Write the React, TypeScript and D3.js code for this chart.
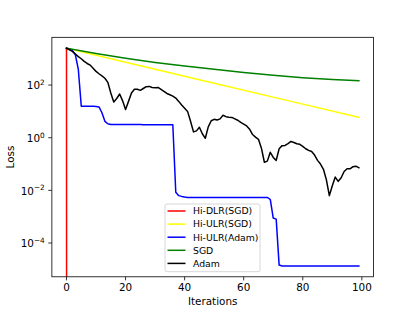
import React from "react";
import * as d3 from "d3";

const W = 415;
const H = 311;

const seriesNames = ["Hi-DLR(SGD)", "Hi-ULR(SGD)", "Hi-ULR(Adam)", "SGD", "Adam"];
const seriesColors = ["#ff0000", "#ffff00", "#0000ff", "#008000", "#000000"];

const xTicks = [0, 20, 40, 60, 80, 100];
const yTickExps = [2, 0, -2, -4];

const hiDlrSgdIters = [0, 1, 99];
const hiDlrSgdLoss = [2512, 0, 0];

const hiUlrSgdIters = [0, 25, 50, 75, 99];
const hiUlrSgdLoss = [2512, 545, 118, 25.6, 5.9];

const sgdIters = [0, 10, 20, 30, 40, 50, 60, 70, 80, 90, 99];
const sgdLoss = [2512, 1585, 1047, 724, 525, 398, 302, 234, 191, 162, 145];

const hiUlrAdamLoss = [
  2512, 2340, 2040, 1413, 398, 15.8, 15.8, 15.8, 15.8, 15.6,
  15.4, 14.8, 8.9, 4.2, 3.4, 3.2, 3.16, 3.16, 3.16, 3.16,
  3.16, 3.16, 3.16, 3.16, 3.16, 3.16, 3.1, 3.1, 3.1, 3.1,
  3.1, 3.1, 3.1, 3.1, 3.1, 3.1, 3.1, 0.0085, 0.0063, 0.0059,
  0.0056, 0.0054, 0.0054, 0.0054, 0.0054, 0.0054, 0.0054, 0.0054, 0.0054, 0.0054,
  0.0054, 0.0054, 0.0054, 0.0054, 0.0054, 0.0054, 0.0054, 0.0054, 0.0054, 0.0054,
  0.0054, 0.0054, 0.0054, 0.0054, 0.0054, 0.0054, 0.0054, 0.0054, 0.0054, 0.0045,
  0.00089, 0.00081, 1.45e-5, 1.35e-5, 1.35e-5, 1.35e-5, 1.35e-5, 1.35e-5, 1.35e-5, 1.35e-5,
  1.35e-5, 1.35e-5, 1.35e-5, 1.35e-5, 1.35e-5, 1.35e-5, 1.35e-5, 1.35e-5, 1.35e-5, 1.35e-5,
  1.35e-5, 1.35e-5, 1.35e-5, 1.35e-5, 1.35e-5, 1.35e-5, 1.35e-5, 1.35e-5, 1.35e-5, 1.35e-5,
];

const adamLoss = [
  2512, 2190, 1905, 1514, 1202, 1000, 794, 661, 575, 437,
  331, 269, 224, 182, 126, 50, 22.9, 30.9, 45.7, 25.1,
  11.7, 24, 50, 69, 69, 63, 74, 87, 89, 81,
  79, 81, 69, 58, 48, 43, 38, 32, 24, 17.4,
  13.2, 10, 4.2, 1.66, 1.82, 2.5, 1.41, 0.95, 2.57, 4.4,
  5.0, 4.7, 5.2, 7.1, 6.3, 6.0, 5.9, 5.2, 4.6, 3.8,
  3.3, 2.8, 2.1, 1.32, 1.05, 0.87, 0.4, 0.117, 0.129, 0.28,
  0.178, 0.138, 0.38, 0.5, 0.51, 0.6, 0.72, 0.66, 0.59, 0.56,
  0.47, 0.38, 0.33, 0.3, 0.22, 0.138, 0.1, 0.063, 0.025, 0.0063,
  0.015, 0.032, 0.022, 0.03, 0.052, 0.066, 0.066, 0.079, 0.083, 0.072,
];

type Pt = [number, number];
const zipPts = (xs: number[], ys: number[]): Pt[] => ys.map((v, i) => [xs[i], v]);
const idx = (arr: number[]) => arr.map((_, i) => i);

const seriesData: Pt[][] = [
  zipPts(hiDlrSgdIters, hiDlrSgdLoss),
  zipPts(hiUlrSgdIters, hiUlrSgdLoss),
  zipPts(idx(hiUlrAdamLoss), hiUlrAdamLoss),
  zipPts(sgdIters, sgdLoss),
  zipPts(idx(adamLoss), adamLoss),
];

export default function App() {
  const left = 0.125 * W;
  const right = 0.9 * W;
  const top = H - 0.88 * H;
  const bottom = H - 0.11 * H;

  const allX = seriesData.flat().map((d) => d[0]);
  const xMin = d3.min(allX)!;
  const xMax = d3.max(allX)!;
  const xPad = (xMax - xMin) * 0.05;
  const x = d3.scaleLinear().domain([xMin - xPad, xMax + xPad]).range([left, right]);

  const pos = seriesData.flat().map((d) => d[1]).filter((v) => v > 0);
  const lMin = Math.log10(d3.min(pos)!);
  const lMax = Math.log10(d3.max(pos)!);
  const lPad = (lMax - lMin) * 0.05;
  const y = d3
    .scaleLog()
    .domain([Math.pow(10, lMin - lPad), Math.pow(10, lMax + lPad)])
    .range([bottom, top]);

  const line = d3
    .line<Pt>()
    .x((d) => x(d[0]))
    .y((d) => y(Math.max(d[1], 1e-300)));

  const font = "'DejaVu Sans', sans-serif";
  const fs = 10.4;
  const lw = 1.5;
  const sw = 0.8;
  const tickLen = 3.6;

  const legX = 165;
  const legY = 204;
  const legW = 95;
  const legH = 67.7;
  const rowY = (i: number) => 211 + i * 13.1;

  return (
    <div style={{ position: "fixed", left: 0, top: 0 }}>
      <svg width={W} height={H} style={{ display: "block", background: "#fff" }}>
        <defs>
          <clipPath id="plotclip">
            <rect x={left} y={top} width={right - left} height={bottom - top} />
          </clipPath>
        </defs>
        <rect x={0} y={0} width={W} height={H} fill="#fff" />
        <g clipPath="url(#plotclip)">
          {seriesData.map((pts, i) => (
            <path
              key={seriesNames[i]}
              d={line(pts) || ""}
              fill="none"
              stroke={seriesColors[i]}
              strokeWidth={lw}
              strokeLinejoin="round"
              strokeLinecap="square"
            />
          ))}
        </g>
        <rect
          x={left}
          y={top}
          width={right - left}
          height={bottom - top}
          fill="none"
          stroke="#000"
          strokeWidth={sw}
        />
        {xTicks.map((t) => (
          <g key={"x" + t}>
            <line x1={x(t)} x2={x(t)} y1={bottom} y2={bottom + tickLen} stroke="#000" strokeWidth={sw} />
            <text x={x(t)} y={291} textAnchor="middle" fontFamily={font} fontSize={fs} fill="#000">
              {t}
            </text>
          </g>
        ))}
        {yTickExps.map((e) => {
          const v = Math.pow(10, e);
          const yy = y(v);
          return (
            <g key={"y" + e}>
              <line x1={left - tickLen} x2={left} y1={yy} y2={yy} stroke="#000" strokeWidth={sw} />
              <text x={left - 7.2} y={yy + 4.4} textAnchor="end" fontFamily={font} fontSize={fs} fill="#000">
                <tspan>10</tspan>
                <tspan dy={-4.4} fontSize={7.3}>
                  {e < 0 ? "\u2212" + Math.abs(e) : String(e)}
                </tspan>
              </text>
            </g>
          );
        })}
        <text x={(left + right) / 2} y={305} textAnchor="middle" fontFamily={font} fontSize={fs} fill="#000">
          Iterations
        </text>
        <text
          transform={`translate(14.2, ${(top + bottom) / 2}) rotate(-90)`}
          textAnchor="middle"
          fontFamily={font}
          fontSize={fs}
          fill="#000"
        >
          Loss
        </text>
        <rect
          x={legX}
          y={legY}
          width={legW}
          height={legH}
          rx={2}
          ry={2}
          fill="#fff"
          fillOpacity={0.8}
          stroke="#cccccc"
          strokeWidth={sw}
        />
        {seriesNames.map((n, i) => (
          <g key={"leg" + n}>
            <line x1={167.5} x2={185.5} y1={rowY(i)} y2={rowY(i)} stroke={seriesColors[i]} strokeWidth={lw} />
            <text x={193} y={rowY(i) + 3.3} fontFamily={font} fontSize={9.3} fill="#000">
              {n}
            </text>
          </g>
        ))}
      </svg>
    </div>
  );
}
